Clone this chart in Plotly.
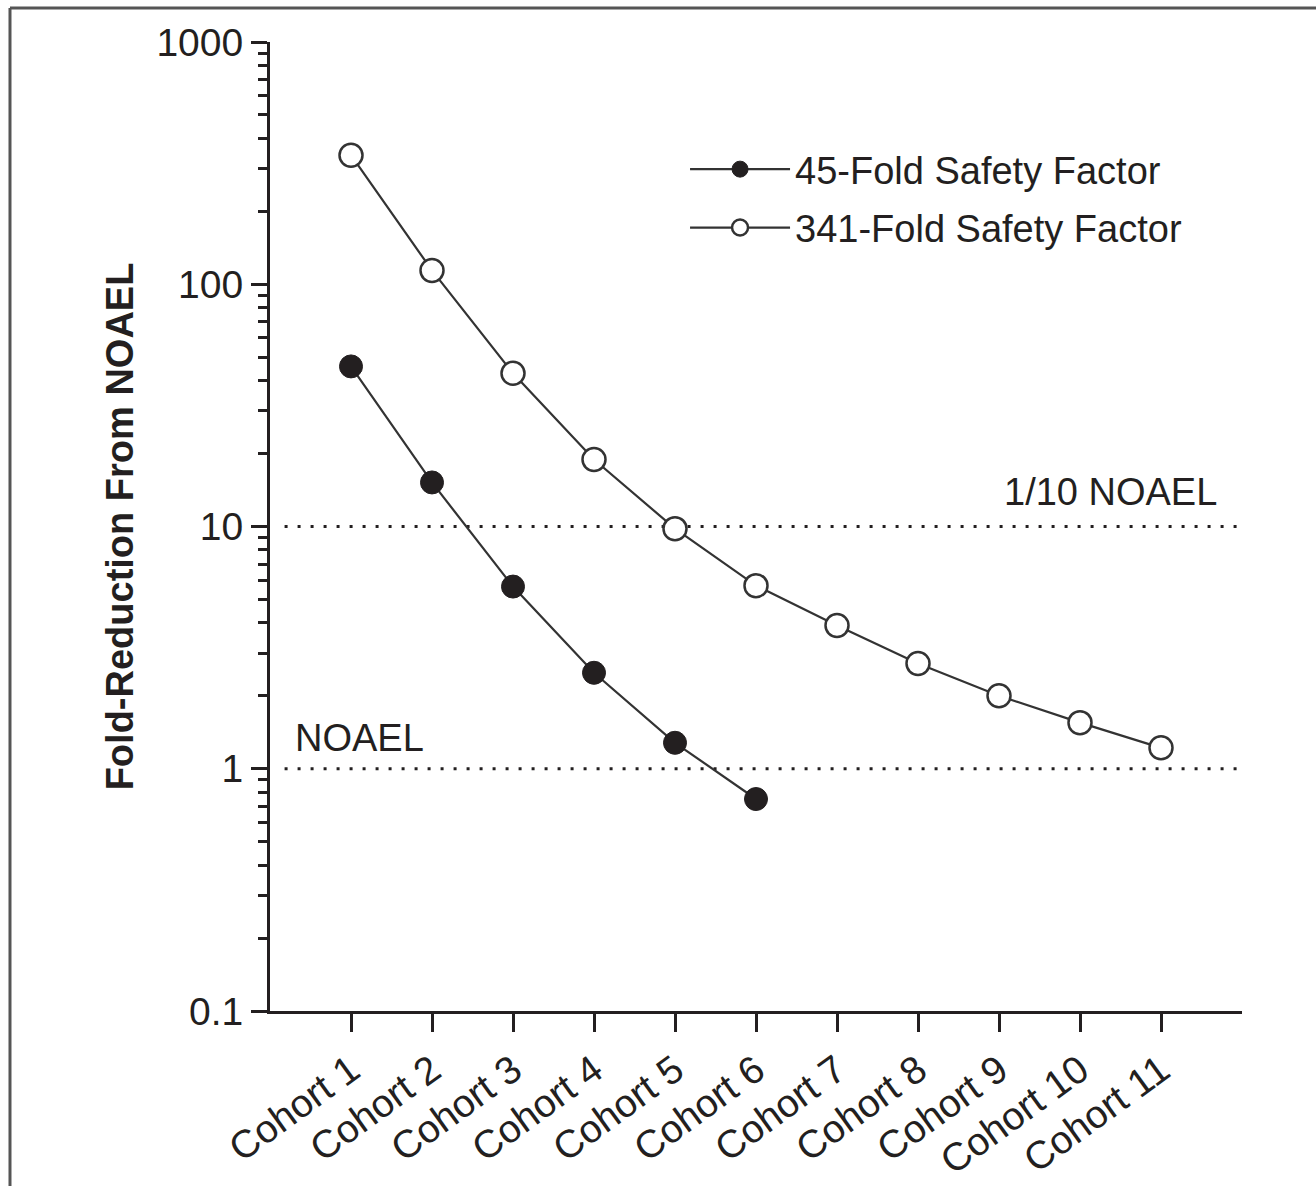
import plotly.graph_objects as go

cohorts = [f"Cohort {i}" for i in range(1, 12)]
x_pos = list(range(1, 12))
fold45 = [45.8, 15.2, 5.65, 2.49, 1.28, 0.75]
fold341 = [341, 114, 42.9, 18.9, 9.8, 5.7, 3.9, 2.72, 2.0, 1.55, 1.22]
ref_lines = [10, 1]
ref_labels = ["1/10 NOAEL", "NOAEL"]

FONT = "Liberation Sans, Arial, Helvetica, sans-serif"
INK = "#231f20"

fig = go.Figure()
fig.add_trace(go.Scatter(
    x=x_pos[:len(fold45)], y=fold45, mode="lines+markers",
    name="45-Fold Safety Factor", legendgroup="a",
    line=dict(color="#333333", width=2.2),
    marker=dict(symbol="circle", size=23, color=INK, line=dict(color=INK, width=1)),
))
fig.add_trace(go.Scatter(
    x=x_pos, y=fold341, mode="lines+markers",
    name="341-Fold Safety Factor", legendgroup="b",
    line=dict(color="#333333", width=2.2),
    marker=dict(symbol="circle", size=23, color="white", line=dict(color="#333333", width=2.5)),
))

# reference dotted lines
for v in ref_lines:
    fig.add_shape(type="line", xref="paper", yref="y", x0=0.015, x1=0.997, y0=v, y1=v,
                  line=dict(color=INK, width=3, dash="3px,10px"), layer="below")

fig.add_annotation(x=0.976, xref="paper", y=1.0, yref="y", yshift=12, text=ref_labels[0],
                   showarrow=False, xanchor="right", yanchor="bottom",
                   font=dict(family=FONT, size=38, color=INK))
fig.add_annotation(x=0.024, xref="paper", y=0.0, yref="y", yshift=8, text=ref_labels[1],
                   showarrow=False, xanchor="left", yanchor="bottom",
                   font=dict(family=FONT, size=38, color=INK))

# outer frame (top and left edges)
fig.add_shape(type="line", xref="paper", yref="paper", x0=-0.2675, x1=1.08, y0=1.035, y1=1.035,
              line=dict(color="#555555", width=3))
fig.add_shape(type="line", xref="paper", yref="paper", x0=-0.2675, x1=-0.2675, y0=1.035, y1=-0.2,
              line=dict(color="#555555", width=3))

minor_vals = []
for d in [0.1, 1, 10, 100]:
    for k in range(2, 10):
        minor_vals.append(d * k)

fig.update_layout(
    width=1316, height=1186,
    margin=dict(l=270, r=74, t=42, b=175, autoexpand=False),
    paper_bgcolor="white", plot_bgcolor="white",
    font=dict(family=FONT, size=38, color=INK),
    showlegend=True,
    legend=dict(x=0.427, y=0.901, xanchor="left", yanchor="top",
                font=dict(family=FONT, size=38, color=INK),
                bgcolor="rgba(0,0,0,0)", itemwidth=100, tracegroupgap=6),
    xaxis=dict(
        range=[0, 12], tickmode="array", tickvals=x_pos, ticktext=cohorts,
        tickangle=-36, ticks="outside", ticklen=18, tickwidth=3, tickcolor=INK,
        showline=True, linecolor=INK, linewidth=3, showgrid=False, zeroline=False,
        tickfont=dict(family=FONT, size=39, color=INK), automargin=False,
    ),
    yaxis=dict(
        type="log", range=[-1, 3], tickmode="array",
        tickvals=[0.1, 1, 10, 100, 1000], ticktext=["0.1", "1", "10", "100", "1000"],
        ticks="outside", ticklen=16, tickwidth=3, tickcolor=INK,
        showline=True, linecolor=INK, linewidth=3, showgrid=False, zeroline=False,
        tickfont=dict(family=FONT, size=39, color=INK), automargin=False,
        minor=dict(tickmode="array", tickvals=minor_vals, ticks="outside", ticklen=9,
                   tickwidth=2.5, tickcolor=INK, showgrid=False),
        title=dict(text="<b>Fold-Reduction From NOAEL</b>", standoff=12,
                   font=dict(family=FONT, size=38, color=INK)),
    ),
)

fig.write_html("out.html")
